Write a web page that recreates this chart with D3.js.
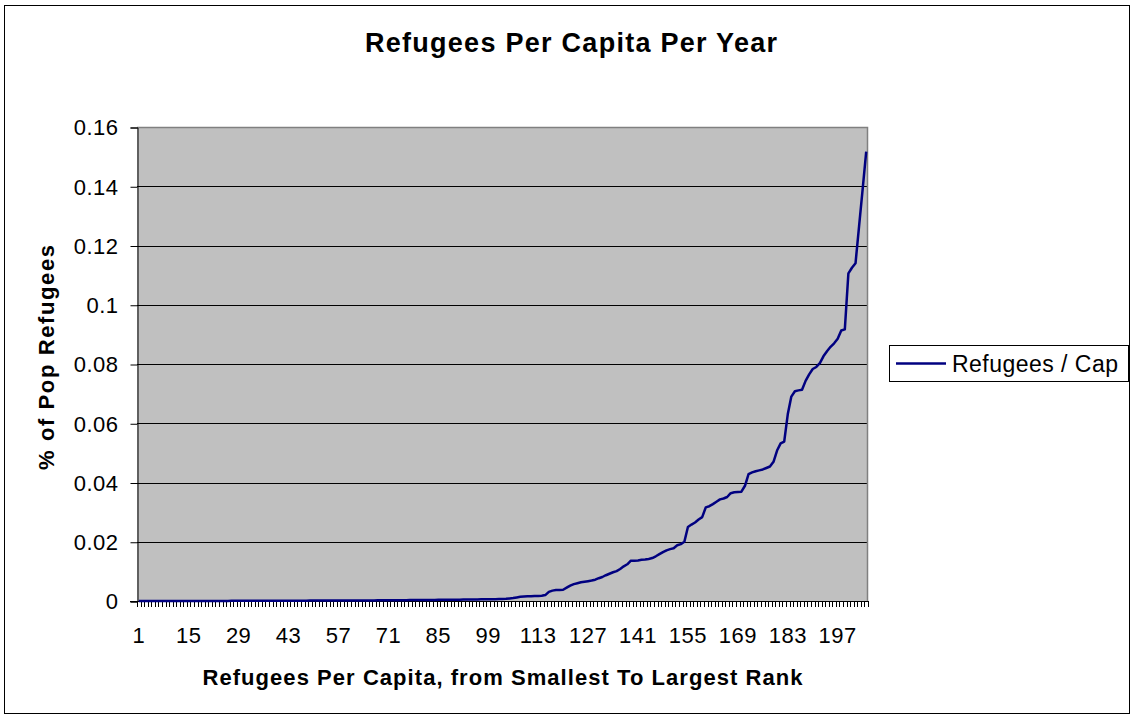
<!DOCTYPE html>
<html>
<head>
<meta charset="utf-8">
<script src="https://cdn.jsdelivr.net/npm/d3@7/dist/d3.min.js"></script>
<style>
  html, body { margin: 0; padding: 0; background: #fff; }
  svg { display: block; font-family: "Liberation Sans", Arial, sans-serif; }
</style>
</head>
<body>
<svg id="chart" width="1133" height="718"></svg>
<script>
// ---- Data ----
const chartTitle = "Refugees Per Capita Per Year";
const xTitle = "Refugees Per Capita, from Smallest To Largest Rank";
const yTitle = "% of Pop Refugees";
const seriesName = "Refugees / Cap";

// rank 1..205, fraction of population that are refugees, sorted ascending
const values = [
  // 1-10
  0, 0, 0, 0, 0, 0, 0, 0.00001, 0.00001, 0.00001,
  // 11-20
  0.00001, 0.00001, 0.00001, 0.00002, 0.00002, 0.00002, 0.00002, 0.00002, 0.00003, 0.00003,
  // 21-30
  0.00003, 0.00003, 0.00004, 0.00004, 0.00004, 0.00004, 0.00005, 0.00005, 0.00005, 0.00006,
  // 31-40
  0.00006, 0.00006, 0.00007, 0.00007, 0.00007, 0.00008, 0.00008, 0.00008, 0.00009, 0.00009,
  // 41-50
  0.0001, 0.0001, 0.0001, 0.00011, 0.00011, 0.00011, 0.00012, 0.00012, 0.00013, 0.00013,
  // 51-60
  0.00013, 0.00014, 0.00014, 0.00015, 0.00015, 0.00016, 0.00016, 0.00017, 0.00017, 0.00018,
  // 61-70
  0.00018, 0.00019, 0.00019, 0.0002, 0.0002, 0.00021, 0.00021, 0.00022, 0.00023, 0.00023,
  // 71-80
  0.00024, 0.00025, 0.00026, 0.00027, 0.00028, 0.00029, 0.0003, 0.00031, 0.00032, 0.00033,
  // 81-90
  0.00034, 0.00035, 0.00036, 0.00037, 0.00038, 0.0004, 0.00041, 0.00042, 0.00044, 0.00045,
  // 91-100
  0.00046, 0.00048, 0.00049, 0.0005, 0.00052, 0.00053, 0.00055, 0.00056, 0.00058, 0.0006,
  // 101-110
  0.00062, 0.00065, 0.00068, 0.00072, 0.00085, 0.001, 0.0012, 0.0014, 0.0015, 0.0016,
  // 111-120
  0.0016, 0.0017, 0.0017, 0.0018, 0.002, 0.0031, 0.0035, 0.0037, 0.0037, 0.0038,
  // 121-130
  0.0045, 0.0052, 0.0057, 0.006, 0.0063, 0.0065, 0.0067, 0.0069, 0.0072, 0.0077,
  // 131-140
  0.0081, 0.0087, 0.0092, 0.0097, 0.0101, 0.0108, 0.0117, 0.0124, 0.0136, 0.0136,
  // 141-150
  0.0137, 0.0139, 0.014, 0.0142, 0.0145, 0.0151, 0.0158, 0.0165, 0.0171, 0.0175,
  // 151-160
  0.0178, 0.0188, 0.0192, 0.02, 0.025, 0.0258, 0.0265, 0.0275, 0.0283, 0.0316,
  // 161-170
  0.032, 0.0327, 0.0335, 0.0343, 0.0346, 0.0351, 0.0364, 0.0367, 0.0368, 0.0369,
  // 171-180
  0.0389, 0.0428, 0.0434, 0.0438, 0.0441, 0.0444, 0.0449, 0.0454, 0.047, 0.0508,
  // 181-190
  0.0532, 0.0538, 0.063, 0.069, 0.0708, 0.0711, 0.0713, 0.0743, 0.0765, 0.0783,
  // 191-200
  0.079, 0.0803, 0.0826, 0.0843, 0.0858, 0.087, 0.0885, 0.0913, 0.0917, 0.1106,
  // 201-205
  0.1125, 0.114, 0.1265, 0.139, 0.1517
];
const ranks = values.map((v, i) => i + 1);
const yTicks = [0, 0.02, 0.04, 0.06, 0.08, 0.1, 0.12, 0.14, 0.16];
const yTickLabels = ["0", "0.02", "0.04", "0.06", "0.08", "0.1", "0.12", "0.14", "0.16"];
const xLabelRanks = [1, 15, 29, 43, 57, 71, 85, 99, 113, 127, 141, 155, 169, 183, 197];

// ---- Layout ----
const svg = d3.select("#chart");
const plot = { left: 137, right: 868, top: 127, bottom: 601 };

const x = d3.scaleBand().domain(ranks).range([plot.left, plot.right]).padding(0);
const y = d3.scaleLinear().domain([0, 0.16]).range([plot.bottom, plot.top]);

// outer frame
svg.append("rect")
  .attr("x", 4.5).attr("y", 5.5).attr("width", 1125).attr("height", 708)
  .attr("fill", "#fff").attr("stroke", "#000").attr("stroke-width", 1);

// plot background
svg.append("rect")
  .attr("x", plot.left).attr("y", plot.top)
  .attr("width", plot.right - plot.left).attr("height", plot.bottom - plot.top)
  .attr("fill", "#c0c0c0");

// gridlines
svg.append("g").selectAll("line")
  .data(yTicks.filter(t => t > 0 && t < 0.16))
  .join("line")
  .attr("x1", plot.left).attr("x2", plot.right)
  .attr("y1", d => Math.round(y(d)) + 0.5).attr("y2", d => Math.round(y(d)) + 0.5)
  .attr("stroke", "#000").attr("stroke-width", 1);

// plot border top/right (gray)
svg.append("path")
  .attr("d", `M${plot.left},${plot.top + 0.5}H${plot.right - 0.5}V${plot.bottom}`)
  .attr("fill", "none").attr("stroke", "#808080").attr("stroke-width", 1.5);

// Y axis
const yAxis = d3.axisLeft(y).tickValues(yTicks)
  .tickFormat((d, i) => yTickLabels[i]).tickSize(7).tickPadding(12);
const gy = svg.append("g").attr("transform", `translate(${plot.left + 0.5},0.5)`).call(yAxis);
gy.select(".domain").attr("stroke", "#000");
gy.selectAll(".tick line").attr("stroke", "#000");
gy.selectAll(".tick text")
  .attr("font-size", 22).attr("fill", "#000").attr("letter-spacing", 0.5)
  .attr("font-family", "Liberation Sans, Arial, sans-serif")
  .attr("dy", "0.34em");

// X axis: one tick per category boundary
const boundaries = ranks.map(r => x(r)).concat([plot.right]);
const gx = svg.append("g");
gx.append("line")
  .attr("x1", plot.left - 7).attr("x2", plot.right)
  .attr("y1", plot.bottom + 0.5).attr("y2", plot.bottom + 0.5)
  .attr("stroke", "#000");
gx.selectAll("line.tk").data(boundaries).join("line").attr("class", "tk")
  .attr("x1", d => Math.round(d) + 0.5).attr("x2", d => Math.round(d) + 0.5)
  .attr("y1", plot.bottom).attr("y2", plot.bottom + 6)
  .attr("stroke", "#000").attr("stroke-width", 1);
gx.selectAll("text").data(xLabelRanks).join("text")
  .attr("x", d => x(d) + x.bandwidth() / 2)
  .attr("y", 643)
  .attr("text-anchor", "middle")
  .attr("font-size", 22).attr("letter-spacing", 0.5)
  .text(d => d);

// line
const line = d3.line()
  .x((d, i) => x(ranks[i]) + x.bandwidth() / 2)
  .y(d => y(d));
svg.append("path").datum(values)
  .attr("d", line)
  .attr("fill", "none").attr("stroke", "#000080")
  .attr("stroke-width", 2.5).attr("stroke-linejoin", "round");

// title
svg.append("text")
  .attr("x", 571).attr("y", 52).attr("text-anchor", "middle")
  .attr("font-size", 27).attr("font-weight", "bold")
  .attr("textLength", 412).attr("lengthAdjust", "spacing")
  .text(chartTitle);

// x title
svg.append("text")
  .attr("x", (plot.left + plot.right) / 2).attr("y", 685).attr("text-anchor", "middle")
  .attr("font-size", 22).attr("font-weight", "bold")
  .attr("textLength", 600).attr("lengthAdjust", "spacing")
  .text(xTitle);

// y title
svg.append("text")
  .attr("transform", `translate(54,357.5) rotate(-90)`)
  .attr("text-anchor", "middle")
  .attr("font-size", 22).attr("font-weight", "bold")
  .attr("textLength", 225).attr("lengthAdjust", "spacing")
  .text(yTitle);

// legend
const lg = svg.append("g");
lg.append("rect").attr("x", 889.5).attr("y", 345.5).attr("width", 239).attr("height", 36)
  .attr("fill", "#fff").attr("stroke", "#000");
lg.append("line").attr("x1", 896).attr("x2", 946).attr("y1", 363.5).attr("y2", 363.5)
  .attr("stroke", "#000080").attr("stroke-width", 2.5);
lg.append("text").attr("x", 952).attr("y", 372)
  .attr("font-size", 23).attr("textLength", 166).attr("lengthAdjust", "spacing")
  .text(seriesName);
</script>
</body>
</html>
